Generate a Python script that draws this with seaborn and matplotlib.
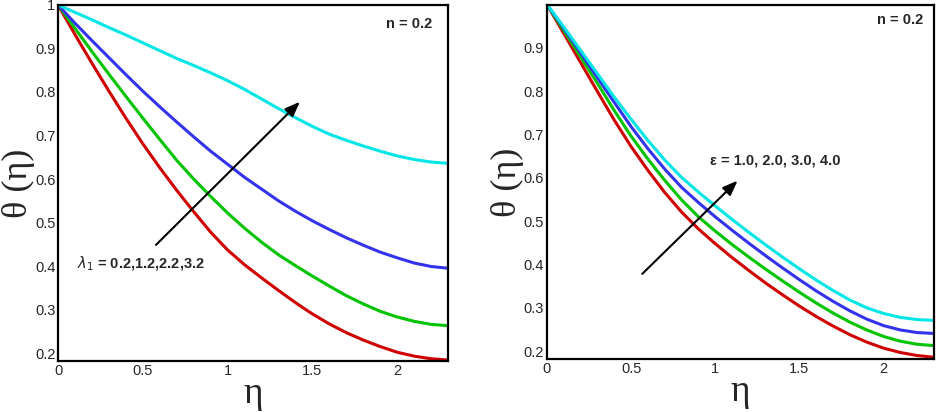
import numpy as np
import pandas as pd
import matplotlib
matplotlib.use("Agg")
import matplotlib.pyplot as plt
import seaborn as sns
from matplotlib.ticker import MultipleLocator, FormatStrFormatter

# ── DATA ───────────────────────────────────────────────
eta = [0.0, 0.1, 0.2, 0.3, 0.4, 0.5, 0.6, 0.7, 0.8, 0.9, 1.0, 1.1,
       1.2, 1.3, 1.4, 1.5, 1.6, 1.7, 1.8, 1.9, 2.0, 2.1, 2.2, 2.3]

# left panel: lambda_1 = 0.2, 1.2, 2.2, 3.2
lam_red = [1.000, 0.932, 0.866, 0.802, 0.740, 0.681, 0.626, 0.574, 0.525, 0.478,
           0.437, 0.403, 0.373, 0.344, 0.316, 0.290, 0.267, 0.247, 0.230, 0.215,
           0.202, 0.193, 0.187, 0.184]
lam_green = [1.000, 0.946, 0.893, 0.841, 0.790, 0.740, 0.691, 0.643, 0.600, 0.560,
             0.522, 0.487, 0.455, 0.426, 0.401, 0.377, 0.354, 0.332, 0.313, 0.296,
             0.283, 0.273, 0.266, 0.263]
lam_blue = [1.000, 0.958, 0.918, 0.879, 0.840, 0.802, 0.766, 0.731, 0.697, 0.664,
            0.634, 0.604, 0.577, 0.550, 0.526, 0.504, 0.484, 0.465, 0.448, 0.432,
            0.419, 0.407, 0.399, 0.395]
lam_cyan = [1.000, 0.983, 0.966, 0.948, 0.931, 0.913, 0.895, 0.877, 0.861, 0.844,
            0.826, 0.806, 0.784, 0.762, 0.741, 0.721, 0.703, 0.689, 0.676, 0.664,
            0.653, 0.645, 0.639, 0.636]

# right panel: epsilon = 1.0, 2.0, 3.0, 4.0
eps_red = [1.000, 0.933, 0.866, 0.799, 0.733, 0.672, 0.617, 0.566, 0.521, 0.482,
           0.448, 0.416, 0.386, 0.357, 0.330, 0.304, 0.280, 0.258, 0.238, 0.221,
           0.207, 0.197, 0.190, 0.186]
eps_green = [1.000, 0.940, 0.879, 0.818, 0.755, 0.696, 0.643, 0.594, 0.549, 0.510,
             0.477, 0.446, 0.417, 0.389, 0.362, 0.336, 0.311, 0.288, 0.267, 0.249,
             0.234, 0.223, 0.216, 0.213]
eps_blue = [1.000, 0.945, 0.888, 0.831, 0.774, 0.718, 0.667, 0.620, 0.578, 0.543,
            0.510, 0.479, 0.449, 0.420, 0.392, 0.365, 0.339, 0.315, 0.293, 0.274,
            0.259, 0.249, 0.243, 0.241]
eps_cyan = [1.000, 0.948, 0.894, 0.840, 0.786, 0.735, 0.686, 0.641, 0.601, 0.567,
            0.535, 0.504, 0.474, 0.445, 0.417, 0.390, 0.364, 0.340, 0.318, 0.300,
            0.287, 0.278, 0.273, 0.271]

lam_values = ["0.2", "1.2", "2.2", "3.2"]
eps_values = ["1.0", "2.0", "3.0", "4.0"]
colors = ["#d00000", "#00c400", "#3333ee", "#00e6e6"]


def long_df(series, names):
    rows = []
    for name, ys in zip(names, series):
        for x, y in zip(eta, ys):
            rows.append({"eta": x, "theta": y, "case": name})
    return pd.DataFrame(rows)


df_lam = long_df([lam_red, lam_green, lam_blue, lam_cyan], lam_values)
df_eps = long_df([eps_red, eps_green, eps_blue, eps_cyan], eps_values)

# ── STYLE ──────────────────────────────────────────────
sns.set_style("white")
plt.rcParams["font.family"] = ["Liberation Sans", "DejaVu Sans"]

fig = plt.figure(figsize=(9.36, 4.12), dpi=100)
ax1 = fig.add_axes([0.062, 0.124, 0.4166, 0.864])
ax2 = fig.add_axes([0.5844, 0.1286, 0.4136, 0.8594])


def style_axis(ax, ymax):
    ax.set_xlim(0, 2.3)
    ax.set_ylim(0.182, ymax)
    ax.xaxis.set_major_locator(MultipleLocator(0.5))
    ax.xaxis.set_minor_locator(MultipleLocator(0.1))
    ax.yaxis.set_major_locator(MultipleLocator(0.1))
    ax.yaxis.set_minor_locator(MultipleLocator(0.02))
    ax.xaxis.set_major_formatter(FormatStrFormatter("%g"))
    ax.yaxis.set_major_formatter(FormatStrFormatter("%g"))
    ax.tick_params(which="major", direction="in", length=7, width=1.5,
                   labelsize=10.5, pad=2, top=False, right=False)
    ax.tick_params(which="minor", direction="in", length=4, width=1.0,
                   top=False, right=False)
    for s in ax.spines.values():
        s.set_linewidth(1.6)
        s.set_color("black")
    ax.set_xlabel("η", family=["Liberation Serif"], fontsize=27)
    ax.set_ylabel("θ (η)", family=["Liberation Serif"], fontsize=26)
    ax.xaxis.set_label_coords(0.5, -0.045)
    ax.yaxis.set_label_coords(-0.06, 0.5)


# ── LEFT PANEL ─────────────────────────────────────────
sns.lineplot(data=df_lam, x="eta", y="theta", hue="case", palette=colors,
             linewidth=2.2, legend=False, ax=ax1)
style_axis(ax1, 1.0)
ax1.annotate("", xy=(1.438, 0.782), xytext=(0.566, 0.444),
             arrowprops=dict(arrowstyle="-|>,head_length=0.9,head_width=0.35",
                             color="black", lw=1.5))
ax1.text(0.11, 0.406, r"$\lambda_1$ = 0.2,1.2,2.2,3.2", fontsize=10.5,
         fontweight="bold", va="center", ha="left")
ax1.text(2.206, 0.956, "n = 0.2", fontsize=10.5, fontweight="bold",
         va="center", ha="right")

# ── RIGHT PANEL ────────────────────────────────────────
sns.lineplot(data=df_eps, x="eta", y="theta", hue="case", palette=colors,
             linewidth=2.2, legend=False, ax=ax2)
style_axis(ax2, 0.999)
ax2.annotate("", xy=(1.144, 0.598), xytext=(0.554, 0.374),
             arrowprops=dict(arrowstyle="-|>,head_length=0.9,head_width=0.35",
                             color="black", lw=1.5))
ax2.text(0.971, 0.64, "ε = 1.0, 2.0, 3.0, 4.0", fontsize=10.5,
         fontweight="bold", va="center", ha="left")
ax2.text(2.234, 0.964, "n = 0.2", fontsize=10.5, fontweight="bold",
         va="center", ha="right")

fig.savefig("out.png", dpi=100)
